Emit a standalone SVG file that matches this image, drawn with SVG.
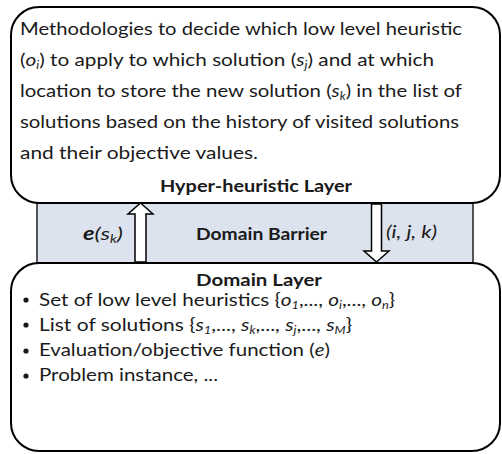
<svg xmlns="http://www.w3.org/2000/svg" width="502" height="454" viewBox="0 0 502 454">
<style>
.box{fill:#fff;stroke:#000;stroke-width:2}
.bar{fill:#dce3ee;stroke:#222;stroke-width:1.5}
.arr{fill:#fff;stroke:#000;stroke-width:1.5;stroke-linejoin:miter}
text{font-family:Lato,"Open Sans","Liberation Sans",sans-serif;font-size:18px;fill:#1a1a1a}
.b{font-weight:bold;font-size:17px}
.i{font-style:italic}
.s{font-size:11px;font-style:italic}
.n{font-weight:normal}
</style>
<rect width="502" height="454" fill="#fff"/>
<g id="barrier">
<rect class="bar" x="37" y="203" width="436" height="60"/>
<text class="b" x="196" y="240" textLength="131" lengthAdjust="spacingAndGlyphs">Domain Barrier</text>
</g>
<g id="hyper-layer">
<rect class="box" x="11" y="7" width="489" height="196" rx="28" ry="28"/>
<text x="20" y="35" textLength="442" lengthAdjust="spacingAndGlyphs">Methodologies to decide which low level heuristic</text>
<text x="20" y="66" textLength="414" lengthAdjust="spacingAndGlyphs">(<tspan class="i">o</tspan><tspan class="s" dy="3">i</tspan><tspan dy="-3">) to apply to which solution (</tspan><tspan class="i">s</tspan><tspan class="s" dy="3">j</tspan><tspan dy="-3">) and at which</tspan></text>
<text x="20" y="97" textLength="442" lengthAdjust="spacingAndGlyphs">location to store the new solution (<tspan class="i">s</tspan><tspan class="s" dy="3">k</tspan><tspan dy="-3">) in the list of</tspan></text>
<text x="20" y="128" textLength="439" lengthAdjust="spacingAndGlyphs">solutions based on the history of visited solutions</text>
<text x="20" y="159" textLength="238" lengthAdjust="spacingAndGlyphs">and their objective values.</text>
<text class="b" x="160" y="192" textLength="192" lengthAdjust="spacingAndGlyphs">Hyper-heuristic Layer</text>
</g>
<g id="domain-layer">
<rect class="box" x="11" y="263" width="489" height="188" rx="28" ry="28"/>
<text class="b" x="196" y="286" textLength="126" lengthAdjust="spacingAndGlyphs">Domain Layer</text>
<circle cx="26" cy="300" r="2.6" fill="#1a1a1a"/>
<circle cx="26" cy="325" r="2.6" fill="#1a1a1a"/>
<circle cx="26" cy="351" r="2.6" fill="#1a1a1a"/>
<circle cx="26" cy="376" r="2.6" fill="#1a1a1a"/>
<text x="39" y="306" textLength="356" lengthAdjust="spacingAndGlyphs">Set of low level heuristics {<tspan class="i">o</tspan><tspan class="s" dy="3">1</tspan><tspan dy="-3">,..., </tspan><tspan class="i">o</tspan><tspan class="s" dy="3">i</tspan><tspan dy="-3">,..., </tspan><tspan class="i">o</tspan><tspan class="s" dy="3">n</tspan><tspan dy="-3">}</tspan></text>
<text x="39" y="331" textLength="313" lengthAdjust="spacingAndGlyphs">List of solutions {<tspan class="i">s</tspan><tspan class="s" dy="3">1</tspan><tspan dy="-3">,..., </tspan><tspan class="i">s</tspan><tspan class="s" dy="3">k</tspan><tspan dy="-3">,..., </tspan><tspan class="i">s</tspan><tspan class="s" dy="3">j</tspan><tspan dy="-3">,..., </tspan><tspan class="i">s</tspan><tspan class="s" dy="3">M</tspan><tspan dy="-3">}</tspan></text>
<text x="39" y="356" textLength="291" lengthAdjust="spacingAndGlyphs">Evaluation/objective function (<tspan class="i">e</tspan>)</text>
<text x="39" y="381" textLength="179" lengthAdjust="spacingAndGlyphs">Problem instance, ...</text>
</g>
<g id="connectors">
<path class="arr" d="M140.5 203 L153 214 L146 214 L146 262 L135 262 L135 214 L128 214 Z"/>
<path class="arr" d="M376.5 262 L389 251 L381.5 251 L381.5 204 L371.5 204 L371.5 251 L364 251 Z"/>
<text class="b i" x="83" y="240" style="font-size:18px" textLength="40" lengthAdjust="spacingAndGlyphs">e<tspan class="n">(s</tspan><tspan class="s n" dy="3">k</tspan><tspan class="n" dy="-3">)</tspan></text>
<text class="i" x="386" y="238" textLength="51" lengthAdjust="spacingAndGlyphs">(i, j, k)</text>
</g>
</svg>
